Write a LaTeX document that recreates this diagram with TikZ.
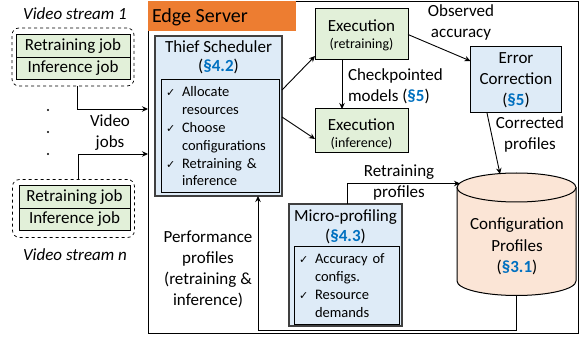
\documentclass[tikz,border=0pt]{standalone}
\usepackage{fontspec}
\setmainfont{Carlito}
\newfontfamily\dejavu{DejaVu Sans}
\usetikzlibrary{arrows.meta,calc}
\definecolor{gfill}{HTML}{E2F0D9}
\definecolor{bfill}{HTML}{DEEBF7}
\definecolor{secblue}{HTML}{0070C0}
\definecolor{orng}{HTML}{ED7D31}
\definecolor{cylfill}{HTML}{FBE5D6}
\newcommand{\sect}[1]{{\color{secblue}\bfseries §#1}}
\newcommand{\ckm}{\makebox[16pt][l]{\dejavu\fontsize{11}{11}\selectfont ✓}}
\newcommand{\ckind}{\hspace*{16pt}}
\begin{document}
\begin{tikzpicture}[x=1pt,y=-1pt,
  every node/.style={inner sep=0pt, outer sep=0pt},
  txt/.style={align=center, font=\fontsize{17}{21}\selectfont},
  smalltxt/.style={align=center, font=\fontsize{14}{16}\selectfont},
  chk/.style={align=left, font=\fontsize{14.5}{17.8}\selectfont},
  jobbox/.style={draw, line width=0.9pt, fill=gfill, minimum width=114pt, minimum height=22.5pt, font=\fontsize{17}{21}\selectfont},
  streambox/.style={draw, dashed, line width=0.7pt, rounded corners=7pt, minimum width=122pt, minimum height=58pt},
  greenbox/.style={draw, line width=1pt, fill=gfill, minimum width=93pt, align=center},
  bluebox/.style={draw=black!75, line width=1.2pt, fill=bfill},
  innerbox/.style={draw, line width=1pt, fill=bfill},
  arr/.style={-{Stealth[length=6pt,width=5.5pt]}, line width=0.9pt},
  ]
\useasboundingbox (0,0) rectangle (584,339);

% edge server frame
\node[draw, line width=1pt, minimum width=430pt, minimum height=331pt, anchor=north west] (edge) at (148,2) {};
\node[fill=orng, minimum width=148pt, minimum height=29.5pt, anchor=north west] (esbg) at (147.5,1.5) {};
\node[anchor=west, font=\fontsize{20}{24}\selectfont] (estext) at (152,17) {Edge Server};

% video streams
\node[txt, font=\itshape\fontsize{17}{21}\selectfont] (vs1) at (75,14) {Video stream 1};
\node[streambox] (s1) at (73,57) {};
\node[jobbox] (r1) at (73,46) {Retraining job};
\node[jobbox] (i1) at (73,68.5) {Inference job};

\node[streambox] (sn) at (73.5,208.5) {};
\node[jobbox, minimum width=111pt] (rn) at (74.5,197) {Retraining job};
\node[jobbox, minimum width=111pt] (inn) at (74.5,219.5) {Inference job};
\node[txt, font=\itshape\fontsize{17}{21}\selectfont] (vsn) at (75,255) {Video stream n};

\node[circle, fill, minimum size=2.4pt] (d1) at (48,110) {};
\node[circle, fill, minimum size=2.4pt] (d2) at (48,132) {};
\node[circle, fill, minimum size=2.4pt] (d3) at (48,154) {};
\node[txt] (vj) at (110,132.5) {Video\\jobs};

\coordinate (in1) at (148,109);
\coordinate (in2) at (148,154);
\draw[arr] ([xshift=4pt]s1.south) |- (in1);
\draw[arr] ([xshift=4.5pt]sn.north) |- (in2);

% thief scheduler
\node[bluebox, minimum width=127pt, minimum height=160pt] (ts) at (218.5,116) {};
\node[txt, font=\fontsize{17}{19.5}\selectfont] (tstitle) at (218.5,57.5) {Thief Scheduler\\(\sect{4.2})};
\node[innerbox, minimum width=114pt, minimum height=113pt, text width=108pt, inner xsep=5pt, chk] (tsin) at (220,136.5)
  {\ckm Allocate\\ \ckind resources\\ \ckm Choose\\ \ckind configurations\\ \ckm Retraining \&\\ \ckind inference};

% executions
\node[greenbox, minimum height=51pt] (er) at (361.5,34.5) {};
\node[txt] (ert1) at (361.5,26) {Execution};
\node[smalltxt] (ert2) at (361.5,45) {(retraining)};
\node[greenbox, minimum height=44pt] (ei) at (361.5,131) {};
\node[txt] (eit1) at (361.5,124.5) {Execution};
\node[smalltxt] (eit2) at (361.5,143) {(inference)};
\node[txt, align=left, anchor=west] (ckl) at (348,86.5) {Checkpointed\\models (\sect{5})};

% error correction
\node[draw, line width=1pt, fill=bfill, minimum width=91pt, minimum height=66pt, txt] (ec) at (516,80) {Error\\Correction\\(\sect{5})};
\node[txt] (obs) at (461,22.5) {Observed\\accuracy};
\node[txt] (corr) at (530,134.5) {Corrected\\profiles};

% cylinder
\node[minimum width=119pt, minimum height=123pt] (cp) at (516.5,234.5) {};
\fill[cylfill] (457,187.5) rectangle (576,281);
\filldraw[fill=cylfill, line width=1pt] (457,187.5) -- (457,281) arc[start angle=180, end angle=360, x radius=59.5pt, y radius=14.5pt] -- (576,187.5);
\filldraw[fill=cylfill, line width=1pt] (516.5,187.5) ellipse [x radius=59.5pt, y radius=14.5pt];
\node[txt, font=\fontsize{17}{21.5}\selectfont] (cptext) at (517,246.5) {Configuration\\Profiles\\(\sect{3.1})};

% micro-profiling
\node[bluebox, minimum width=113pt, minimum height=122pt] (mp) at (345.5,265) {};
\node[txt, font=\fontsize{17}{20}\selectfont] (mptitle) at (345.5,227) {Micro-profiling\\(\sect{4.3})};
\node[innerbox, minimum width=105pt, minimum height=77pt, text width=95pt, inner xsep=5pt, chk] (mpin) at (346.5,285.5)
  {\ckm Accuracy of\\ \ckind configs.\\ \ckm Resource\\ \ckind demands};
\node[txt] (rp) at (399,182.5) {Retraining\\profiles};
\node[txt] (pp) at (208,269) {Performance\\profiles\\(retraining \&\\inference)};

% connectors
\draw[arr] ($(ts.north east)+(0,54)$) -- ($(er.south west)+(0,-4)$);
\draw[arr] ($(ts.north east)+(0,81)$) -- ($(ei.south west)+(0,-14)$);
\draw[arr] ($(er.south)+(-19.5,0)$) -- ($(ei.north)+(-19.5,0)$);
\draw[arr] (er.east) -- ($(ec.north west)+(0,14)$);
\draw[arr] ($(ec.south)+(-29,0)$) -- ($(cp.north)+(-16.5,1)$);
\draw[arr] ($(mp.north)+(1.5,0)$) |- ($(cp.west)+(3,-51)$);
\draw[arr] (cp.south) |- ($(ts.south)+(39.5,134)$) -- ($(ts.south)+(39.5,0)$);
\end{tikzpicture}
\end{document}
